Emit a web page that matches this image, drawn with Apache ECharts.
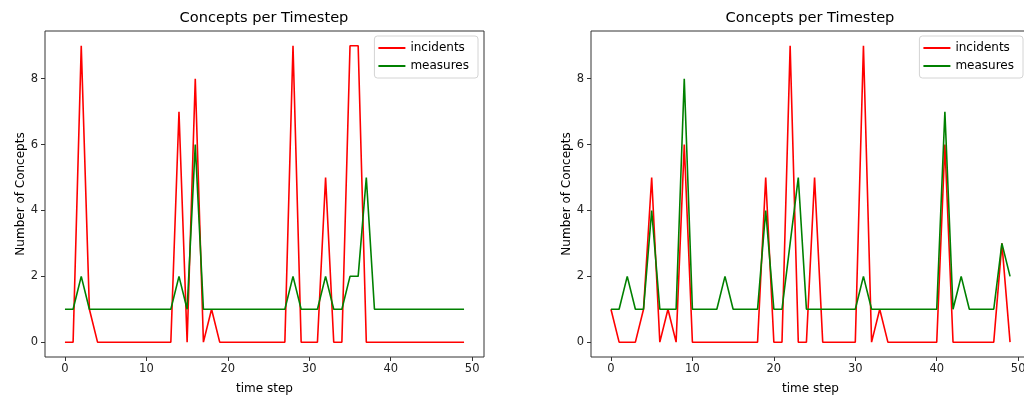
<!DOCTYPE html>
<html>
<head>
<meta charset="utf-8">
<script src="https://cdn.jsdelivr.net/npm/echarts@6/dist/echarts.min.js"></script>
<style>
  html, body { margin: 0; padding: 0; background: #fff; }
  #chart { width: 1024px; height: 396px; }
</style>
</head>
<body>
<div id="chart"></div>
<script>
const timeSteps = Array.from({ length: 50 }, (_, i) => i);

const incidentsLeft = [0,0,9,1,0,0,0,0,0,0, 0,0,0,0,7,0,8,0,1,0, 0,0,0,0,0,0,0,0,9,0, 0,0,5,0,0,9,9,0,0,0, 0,0,0,0,0,0,0,0,0,0];
const measuresLeft  = [1,1,2,1,1,1,1,1,1,1, 1,1,1,1,2,1,6,1,1,1, 1,1,1,1,1,1,1,1,2,1, 1,1,2,1,1,2,2,5,1,1, 1,1,1,1,1,1,1,1,1,1];

const incidentsRight = [1,0,0,0,1,5,0,1,0,6, 0,0,0,0,0,0,0,0,0,5, 0,0,9,0,0,5,0,0,0,0, 0,9,0,1,0,0,0,0,0,0, 0,6,0,0,0,0,0,0,3,0];
const measuresRight  = [1,1,2,1,1,4,1,1,1,8, 1,1,1,1,2,1,1,1,1,4, 1,1,3,5,1,1,1,1,1,1, 1,2,1,1,1,1,1,1,1,1, 1,7,1,2,1,1,1,1,3,2];

const xTicks = [0, 10, 20, 30, 40, 50];
const yTicks = [0, 2, 4, 6, 8];

const font = 'DejaVu Sans';
const pairs = (vals) => timeSteps.map((t, i) => [t, vals[i]]);

const chart = echarts.init(document.getElementById('chart'));

function xAxisFor(gridIndex) {
  return {
    type: 'value', gridIndex, min: -2.45, max: 51.45,
    name: 'time step', nameLocation: 'middle', nameGap: 26,
    nameTextStyle: { fontFamily: font, fontSize: 12, color: '#000' },
    axisLine: { show: false, onZero: false },
    axisTick: { show: true, length: 4, customValues: xTicks, lineStyle: { color: '#333' } },
    axisLabel: { customValues: xTicks, fontFamily: font, fontSize: 11.5, color: '#222', margin: 6 },
    splitLine: { show: false }
  };
}
function yAxisFor(gridIndex) {
  return {
    type: 'value', gridIndex, min: -0.45, max: 9.45,
    name: 'Number of Concepts', nameLocation: 'middle', nameGap: 17,
    nameTextStyle: { fontFamily: font, fontSize: 12, color: '#000' },
    axisLine: { show: false, onZero: false },
    axisTick: { show: true, length: 4, customValues: yTicks, lineStyle: { color: '#333' } },
    axisLabel: { customValues: yTicks, fontFamily: font, fontSize: 11.5, color: '#222', margin: 7 },
    splitLine: { show: false }
  };
}
function lineSeries(name, vals, color, idx) {
  return {
    type: 'line', name, data: pairs(vals), xAxisIndex: idx, yAxisIndex: idx,
    symbol: 'none', lineStyle: { color, width: 1.6 }, itemStyle: { color },
    animation: false
  };
}
function legendFor(right) {
  return {
    orient: 'vertical', right, top: 36,
    data: ['incidents', 'measures'],
    icon: 'rect', itemWidth: 27, itemHeight: 2, itemGap: 6,
    padding: [6, 9, 6, 4],
    borderColor: '#d4d4d4', borderWidth: 1, borderRadius: 3,
    backgroundColor: 'rgba(255,255,255,0.85)',
    textStyle: { fontFamily: font, fontSize: 12, color: '#000' }
  };
}

chart.setOption({
  animation: false,
  title: [
    { text: 'Concepts per Timestep', left: 264, top: 11, textAlign: 'center', padding: 0,
      textStyle: { fontFamily: font, fontSize: 14.6, fontWeight: 'normal', color: '#000' } },
    { text: 'Concepts per Timestep', left: 810, top: 11, textAlign: 'center', padding: 0,
      textStyle: { fontFamily: font, fontSize: 14.6, fontWeight: 'normal', color: '#000' } }
  ],
  legend: [legendFor(546), legendFor(1)],
  grid: [
    { left: 45, right: 540, top: 31, bottom: 39, outerBoundsMode: 'none', show: true, borderColor: '#333', borderWidth: 1, backgroundColor: '#fff' },
    { left: 591, right: -6, top: 31, bottom: 39, outerBoundsMode: 'none', show: true, borderColor: '#333', borderWidth: 1, backgroundColor: '#fff' }
  ],
  xAxis: [xAxisFor(0), xAxisFor(1)],
  yAxis: [yAxisFor(0), yAxisFor(1)],
  series: [
    lineSeries('incidents', incidentsLeft, '#ff0000', 0),
    lineSeries('measures', measuresLeft, '#008000', 0),
    lineSeries('incidents', incidentsRight, '#ff0000', 1),
    lineSeries('measures', measuresRight, '#008000', 1)
  ]
});

window.addEventListener('resize', () => chart.resize());
</script>
</body>
</html>
